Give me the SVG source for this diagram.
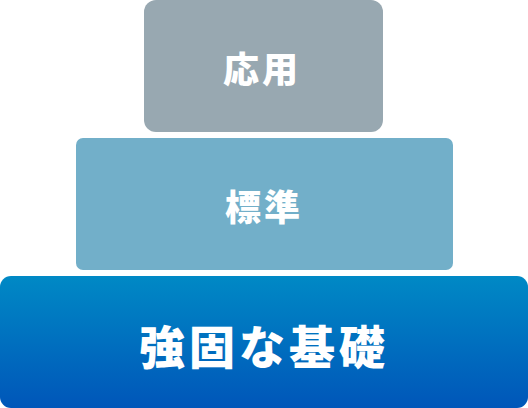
<svg xmlns="http://www.w3.org/2000/svg" width="528" height="408" viewBox="0 0 528 408">
  <style>
    .lbl { font-family: "Noto Sans CJK JP", "Noto Sans CJK SC", sans-serif; font-weight: 900; fill: #ffffff; text-anchor: middle; dominant-baseline: central; }
  </style>
  <defs>
    <linearGradient id="gBase" x1="0" y1="0" x2="0" y2="1">
      <stop offset="0" stop-color="#0089c5"/>
      <stop offset="1" stop-color="#0056b9"/>
    </linearGradient>
  </defs>
  <rect width="528" height="408" fill="#ffffff"/>
  <g id="node-apply">
    <rect x="144" y="0" width="239" height="132" rx="12" fill="#98a8b1"/>
    <text class="lbl" x="262" y="67" font-size="36" letter-spacing="3">応用</text>
  </g>
  <g id="node-standard">
    <rect x="76" y="138" width="377" height="132" rx="7" fill="#72afc9"/>
    <text class="lbl" x="264" y="205" font-size="36" letter-spacing="3">標準</text>
  </g>
  <g id="node-base">
    <rect x="0" y="276" width="528" height="132" rx="11" fill="url(#gBase)"/>
    <text class="lbl" x="264" y="344" font-size="46" letter-spacing="4">強固な基礎</text>
  </g>
  <g id="connectors"></g>
</svg>
